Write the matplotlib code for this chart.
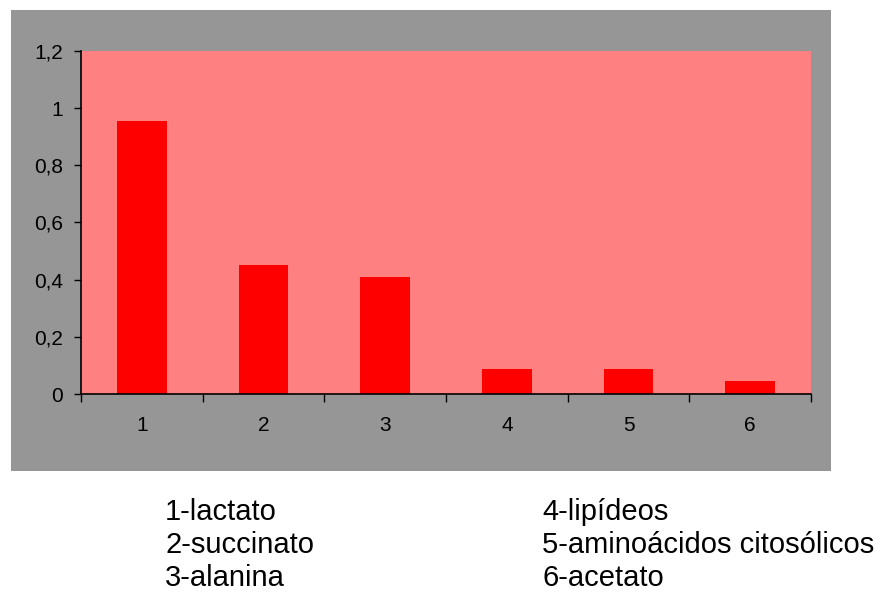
import matplotlib.pyplot as plt
from matplotlib.patches import Rectangle
from matplotlib.ticker import FixedLocator, FuncFormatter

plt.rcParams['font.family'] = ['Liberation Sans', 'DejaVu Sans']

categories = [1, 2, 3, 4, 5, 6]
values = [0.955, 0.451, 0.409, 0.088, 0.088, 0.045]
left_names = ['1-lactato', '2-succinato', '3-alanina']
right_names = ['4-lipídeos', '5-aminoácidos citosólicos', '6-acetato']

W, H = 880, 592
fig = plt.figure(figsize=(W / 100, H / 100), dpi=100)
fig.patch.set_facecolor('white')

# gray chart frame behind the plot area
fig.patches.append(Rectangle((11 / W, 1 - 471 / H), 820 / W, 461 / H,
                             transform=fig.transFigure, facecolor='#969696',
                             edgecolor='none', zorder=-1))

ax = fig.add_axes([81 / W, 1 - 394 / H, 730 / W, 343 / H])
ax.set_facecolor('#FF8080')
ax.bar(categories, values, width=0.41, color='#FF0000', zorder=2)

ax.set_xlim(0.5, 6.5)
ax.set_ylim(0, 1.2)
ax.set_yticks([0, 0.2, 0.4, 0.6, 0.8, 1.0, 1.2])
ax.yaxis.set_major_formatter(FuncFormatter(
    lambda v, p: ('%g' % round(v, 1)).replace('.', ',')))

# tick marks between the categories, labels at the centres
ax.xaxis.set_major_locator(FixedLocator([c - 0.5 for c in categories] + [6.5]))
ax.xaxis.set_minor_locator(FixedLocator(categories))
ax.xaxis.set_major_formatter(FuncFormatter(lambda v, p: ''))
ax.xaxis.set_minor_formatter(FuncFormatter(lambda v, p: '%d' % round(v)))
ax.tick_params(axis='x', which='major', length=6, width=1, direction='out')
ax.tick_params(axis='x', which='minor', length=0, pad=16, labelsize=15)
ax.tick_params(axis='y', length=5, width=1, direction='out', pad=8, labelsize=15)

for side in ['top', 'right']:
    ax.spines[side].set_visible(False)
for side in ['left', 'bottom']:
    ax.spines[side].set_linewidth(1.2)
    ax.spines[side].set_color('black')

# category key under the chart
for i, (a, b) in enumerate(zip(left_names, right_names)):
    y = 1 - (520 + 33 * i) / H
    fig.text(165 / W, y, a, fontsize=21, va='baseline', ha='left')
    fig.text(542 / W, y, b, fontsize=21, va='baseline', ha='left')

fig.savefig('out.png', dpi=100)
